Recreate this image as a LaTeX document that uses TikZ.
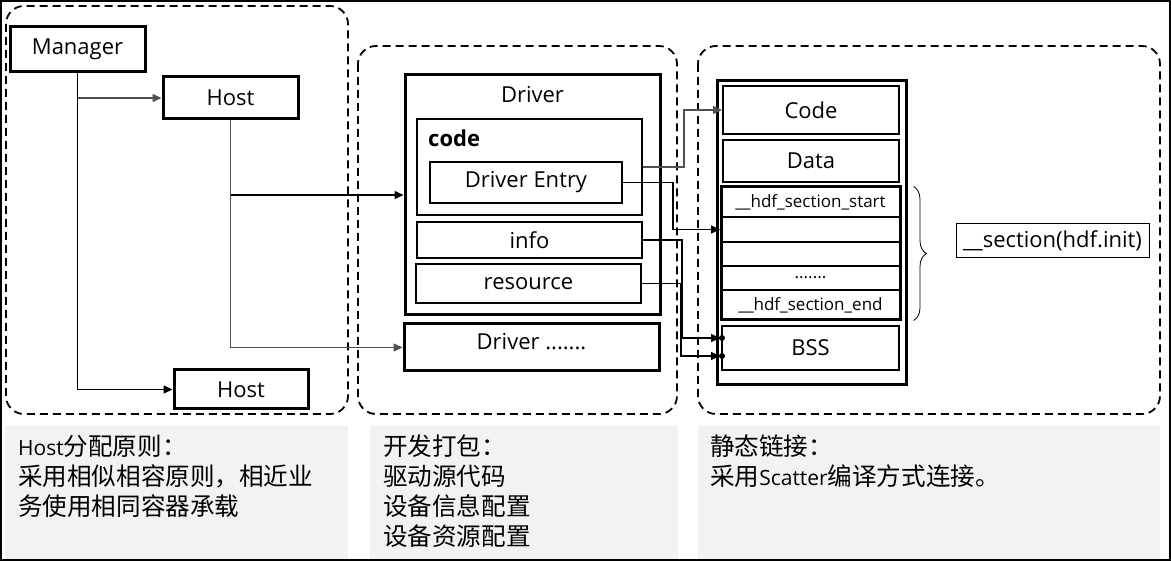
\documentclass[tikz,border=0pt]{standalone}
\usepackage{fontspec}
\setmainfont{Open Sans}
\newfontfamily\cjk[Scale=1.17]{Noto Sans CJK SC}
\usetikzlibrary{arrows.meta,calc,decorations.pathreplacing}
\definecolor{notegray}{HTML}{F2F2F2}
\definecolor{linegray}{HTML}{505050}
\newcommand\rowdots{.......}
\tikzset{
  bigbox/.style={draw, line width=3pt, inner sep=0pt},
  thinbox/.style={draw, line width=2pt, inner sep=0pt},
  group/.style={draw, line width=1.8pt, dash pattern=on 8pt off 5pt, rounded corners=18pt},
  conn/.style={draw, line width=1.5pt, -{Triangle[length=9pt,width=8pt]}},
  note/.style={anchor=north west, align=left, inner sep=0pt, font=\fontsize{21}{30}\selectfont},
}
\begin{document}
\begin{tikzpicture}[x=1pt, y=-1pt, font=\fontsize{22}{26}\selectfont]
    \useasboundingbox (0,0) rectangle (1171,561);
    \draw[line width=2pt] (1,1) rectangle (1170,560);

    % grey notes under the three groups
    \fill[notegray] (5,426) rectangle (348,559);
    \fill[notegray] (370,426) rectangle (678,559);
    \fill[notegray] (698,426) rectangle (1160,559);

    % dashed groups
    \draw[group] (6,6) rectangle (348,414);
    \draw[group] (358,46) rectangle (677,414);
    \draw[group] (698,46) rectangle (1160,414);

    % manager and hosts
    \node[bigbox, minimum width=135, minimum height=45] (manager) at (77.5,49.5) {Manager};
    \node[bigbox, minimum width=135, minimum height=42] (host1) at (230.5,98) {Host};
    \node[bigbox, minimum width=134, minimum height=39] (host2) at (241,389.5) {Host};

    % driver package
    \node[bigbox, minimum width=255, minimum height=240] (driver) at (532.5,195) {};
    \node[inner sep=0pt] (drivername) at (532.5,95) {Driver};
    \node[thinbox, minimum width=225, minimum height=96] (codebox) at (529.5,167) {};
    \node[anchor=west, inner sep=0pt] (codename) at (428,138) {\bfseries code};
    \node[thinbox, minimum width=192, minimum height=41] (entry) at (526,182.5) {Driver Entry};
    \node[thinbox, minimum width=225, minimum height=36] (info) at (529.5,240) {info};
    \node[thinbox, minimum width=225, minimum height=39] (resource) at (528.5,283.5) {resource};
    \node[bigbox, minimum width=255, minimum height=47] (more) at (531.5,347.5) {};
    \node[inner sep=0pt] (morename) at (531.5,342) {Driver .......};

    % image segments
    \node[bigbox, minimum width=189, minimum height=304] (image) at (811.5,233) {};
    \node[thinbox, minimum width=176, minimum height=48] (codeseg) at (811,110) {Code};
    \node[thinbox, minimum width=176, minimum height=42] (dataseg) at (811,161) {Data};
    \foreach \name/\y/\h/\txt in {secstart/202/30/{\_\_hdf\_section\_start}, blanka/229.5/25/{}, blankb/254/24/{}, secdots/278/24/{\rowdots}, secend/305/30/{\_\_hdf\_section\_end}} {
        \node[thinbox, minimum width=179, minimum height=\h, font=\fontsize{17}{19}\selectfont] (\name) at (810.5,\y) {\txt};
    }
    \node[bigbox, minimum width=179, minimum height=133] (secgroup) at (810.5,253.5) {};
    \node[thinbox, minimum width=177, minimum height=44] (bss) at (810.5,348) {BSS};

    % brace and section name
    \draw[line width=0.8pt, decorate, decoration={brace, amplitude=13pt}] ($(secgroup.north east)+(12,1)$) -- ($(secgroup.south east)+(12,-1)$);
    \node[draw, line width=1pt, minimum width=193, minimum height=34, inner sep=0pt] (secname) at (1052.5,241) {\_\_section(hdf.init)};

    % connectors
    \draw[conn] (manager.south) |- (host2.west);
    \draw[conn, linegray] (manager.south |- host1.west) -- (host1.west);
    \draw[conn, linegray] (host1.south) |- (more.west);
    \draw[conn] (host1.south |- driver.west) -- (driver.west);
    \draw[conn, linegray] (codebox.east) -- ++(41,0) |- (codeseg.west);
    \draw[conn] (entry.east) -- ++(50,0) |- (blanka.west);
    \draw[conn] (info.east) -- ++(39,0) |- ($(bss.west)+(-1,-10)$);
    \draw[conn] (resource.east) -- ++(39,0) |- ($(bss.west)+(-1,8)$);
    \fill ($(bss.west)+(1,-10)$) circle (3);
    \fill ($(bss.west)+(1,8)$) circle (3);

    % notes
    \node[note] (hostnote) at (18,435) {Host{\cjk 分配原则：}\\{\cjk 采用相似相容原则，相近业}\\{\cjk 务使用相同容器承载}};
    \node[note] (packnote) at (383,435) {{\cjk 开发打包：}\\{\cjk 驱动源代码}\\{\cjk 设备信息配置}\\{\cjk 设备资源配置}};
    \node[note] (linknote) at (710,435) {{\cjk 静态链接：}\\{\cjk 采用}Scatter{\cjk 编译方式连接。}};
\end{tikzpicture}
\end{document}
